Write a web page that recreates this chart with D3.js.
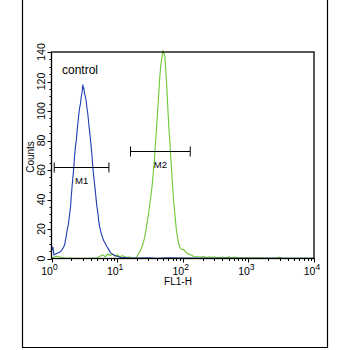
<!DOCTYPE html>
<html><head><meta charset="utf-8">
<script src="https://cdn.jsdelivr.net/npm/d3@7"></script>
<style>html,body{margin:0;padding:0;background:#fff;}svg{display:block;}</style>
</head><body>
<script>
// ---- data ----
const yTicks = [0, 20, 40, 60, 80, 100, 120, 140];
const xDecades = [1, 10, 100, 1000, 10000];
const xLabel = "FL1-H";
const yLabel = "Counts";
const sampleLabel = "control";

// control (blue) histogram: fluorescence, counts
const controlX = [1.0, 1.05, 1.09, 1.15, 1.22, 1.3, 1.37, 1.45, 1.54, 1.6, 1.63, 1.68, 1.73, 1.79, 1.84, 1.9, 1.95, 2.0, 2.06, 2.12, 2.19, 2.25, 2.32, 2.39, 2.46, 2.53, 2.61, 2.68, 2.76, 2.85, 2.93, 3.0, 3.04, 3.1, 3.18, 3.27, 3.37, 3.47, 3.58, 3.68, 3.79, 3.9, 4.02, 4.14, 4.26, 4.39, 4.52, 4.65, 4.79, 4.93, 5.08, 5.23, 5.38, 5.65, 5.91, 6.25, 6.64, 7.0, 7.47, 7.9, 8.39, 9.2, 10, 11.2, 14, 20, 30, 40, 60, 100, 300, 1000, 10000];
const controlY = [5, 8, 2.5, 3, 3.6, 4, 4.7, 6, 8, 10, 12.6, 15, 19.4, 22, 26, 31, 35, 42, 49, 55, 62, 70, 76, 80, 87, 92, 98, 102, 105, 110, 113, 118, 115, 116, 112, 110, 107, 102, 98, 92, 87, 82, 76, 70, 62, 56, 51, 46, 40, 35, 31, 26, 22, 18, 15, 12, 10, 8, 6, 4, 3, 2, 1.5, 0.8, 0.5, 0.3, 0.4, 0.2, 0.5, 0.3, 0.2, 0.1, 0.1];

// stained (green) histogram
const sampleX = [1.0, 1.2, 1.5, 2.0, 3.0, 4.0, 5.0, 5.5, 6.0, 6.6, 7.2, 7.8, 8.5, 9.3, 10, 11, 12, 13, 14, 15.5, 17, 19, 20.2, 21.4, 22.7, 24, 25.5, 27, 28.6, 30.3, 32.2, 34.1, 35.5, 37, 38.3, 39.7, 40.9, 42.1, 43.4, 44.7, 46, 47.3, 48.8, 50.2, 51.7, 53.2, 54.8, 56.4, 58.1, 59.8, 61.6, 63.4, 65.3, 67.2, 69.2, 71.3, 73.4, 75.5, 77.8, 80.1, 83.5, 86.9, 89.5, 92.1, 98, 104, 110, 116, 123, 131, 139, 147, 165, 186, 210, 230, 250, 280, 300, 340, 400, 450, 500, 560, 600, 700, 1000, 2000, 2800, 3000, 3200, 5000, 10000];
const sampleY = [0.5, 1.5, 0.5, 0.3, 0.2, 0.3, 0.5, 1.5, 2.5, 1.2, 3, 2, 3, 1.5, 2.5, 1, 2, 1.2, 0.8, 1, 0.5, 0.3, 1.5, 3.6, 5.5, 8, 12, 17, 24, 31, 40, 49, 58, 67, 78, 87, 96, 105, 114, 123, 130, 134, 138, 141, 139, 137, 130, 121, 110, 98, 88, 80, 70, 62, 52, 44, 37, 31, 25, 19, 14, 10, 8, 7, 6, 6, 4.5, 3.6, 3, 2.5, 2, 1.4, 1.2, 1, 1.3, 0.7, 1.2, 0.6, 1.2, 0.5, 1, 0.5, 1.1, 0.5, 1, 0.4, 0.5, 0.3, 0.3, 1, 0.3, 0.2, 0.2];

// gate markers
const gateNames = ["M1", "M2"];
const gateFrom = [1.1, 16];
const gateTo = [7.5, 130];
const gateLevel = [62, 73];

// ---- drawing ----
const W = 350, H = 350;
const svg = d3.select("body").append("svg").attr("width", W).attr("height", H);
const font = "Arial, 'Liberation Sans', sans-serif";

// outer frame (open top)
svg.append("path").attr("d", "M22.5,0 V347.5 H327.5 V0")
  .attr("fill", "none").attr("stroke", "#000").attr("stroke-width", 1.2);

const L = 51.5, R = 314, T = 52, B = 258.5;
const x = d3.scaleLog().domain([1, 10000]).range([L, R]);
const y = d3.scaleLinear().domain([0, 140]).range([B, T]);

const plot = svg.append("g");

const line = d3.line().x(d => x(d[0])).y(d => y(Math.min(d[1], 140.5)));
plot.append("path").datum(sampleX.map((v, i) => [v, sampleY[i]]))
  .attr("d", line).attr("fill", "none").attr("stroke", "#6dc832").attr("stroke-width", 1.1);
plot.append("path").datum(controlX.map((v, i) => [v, controlY[i]]))
  .attr("d", line).attr("fill", "none").attr("stroke", "#1e3db0").attr("stroke-width", 1.1);

// plot frame
svg.append("rect").attr("x", L).attr("y", T).attr("width", R - L).attr("height", B - T)
  .attr("fill", "none").attr("stroke", "#000").attr("stroke-width", 1.3);

// y axis
const yAxis = svg.append("g");
const yMinor = d3.range(0, 141, 5);
yAxis.selectAll("line.mn").data(yMinor).join("line")
  .attr("x1", L).attr("x2", d => d % 20 === 0 ? L - 4 : L - 2)
  .attr("y1", d => Math.round(y(d)) + 0.5).attr("y2", d => Math.round(y(d)) + 0.5)
  .attr("stroke", "#000").attr("stroke-width", 1);
yAxis.selectAll("text").data(yTicks).join("text")
  .attr("transform", d => `translate(44.5,${y(d)}) rotate(-90)`)
  .attr("text-anchor", "middle").attr("font-family", font).attr("font-size", 10.5)
  .attr("fill", "#000").text(d => d);
svg.append("text").attr("transform", `translate(33.5,157) rotate(-90)`)
  .attr("text-anchor", "middle").attr("font-family", font).attr("font-size", 10)
  .text(yLabel);

// x axis
const xAxis = svg.append("g");
const minors = [];
xDecades.slice(0, -1).forEach(d => { for (let k = 2; k <= 9; k++) minors.push(d * k); });
xAxis.selectAll("line.mj").data(xDecades).join("line")
  .attr("x1", d => Math.round(x(d)) + 0.5).attr("x2", d => Math.round(x(d)) + 0.5)
  .attr("y1", B).attr("y2", B + 4).attr("stroke", "#000");
xAxis.selectAll("line.mn").data(minors).join("line")
  .attr("x1", d => Math.round(x(d)) + 0.5).attr("x2", d => Math.round(x(d)) + 0.5)
  .attr("y1", B).attr("y2", B + 2.5).attr("stroke", "#000");
const xl = xAxis.selectAll("text").data(xDecades).join("text")
  .attr("x", d => x(d) - 2).attr("y", 274.5).attr("text-anchor", "middle")
  .attr("font-family", font).attr("font-size", 10.5);
xl.append("tspan").text("10");
xl.append("tspan").attr("dy", -5).attr("font-size", 8.5).text(d => Math.round(Math.log10(d)));
svg.append("text").attr("x", 178).attr("y", 284.5).attr("text-anchor", "middle")
  .attr("font-family", font).attr("font-size", 10).text(xLabel);

// control label
svg.append("text").attr("x", 62).attr("y", 74).attr("font-family", font)
  .attr("font-size", 12).text(sampleLabel);

// gates
gateNames.forEach((g, i) => {
  const gy = Math.round(y(gateLevel[i])) + 0.5;
  const x1 = x(gateFrom[i]), x2 = x(gateTo[i]);
  svg.append("line").attr("x1", x1).attr("x2", x2).attr("y1", gy).attr("y2", gy).attr("stroke", "#000");
  svg.append("line").attr("x1", x1).attr("x2", x1).attr("y1", gy - 5).attr("y2", gy + 5).attr("stroke", "#000");
  svg.append("line").attr("x1", x2).attr("x2", x2).attr("y1", gy - 5).attr("y2", gy + 5).attr("stroke", "#000");
  svg.append("text").attr("x", (x1 + x2) / 2).attr("y", gy + 16).attr("text-anchor", "middle")
    .attr("font-family", font).attr("font-size", 9.5).text(g);
});
</script>
</body></html>
